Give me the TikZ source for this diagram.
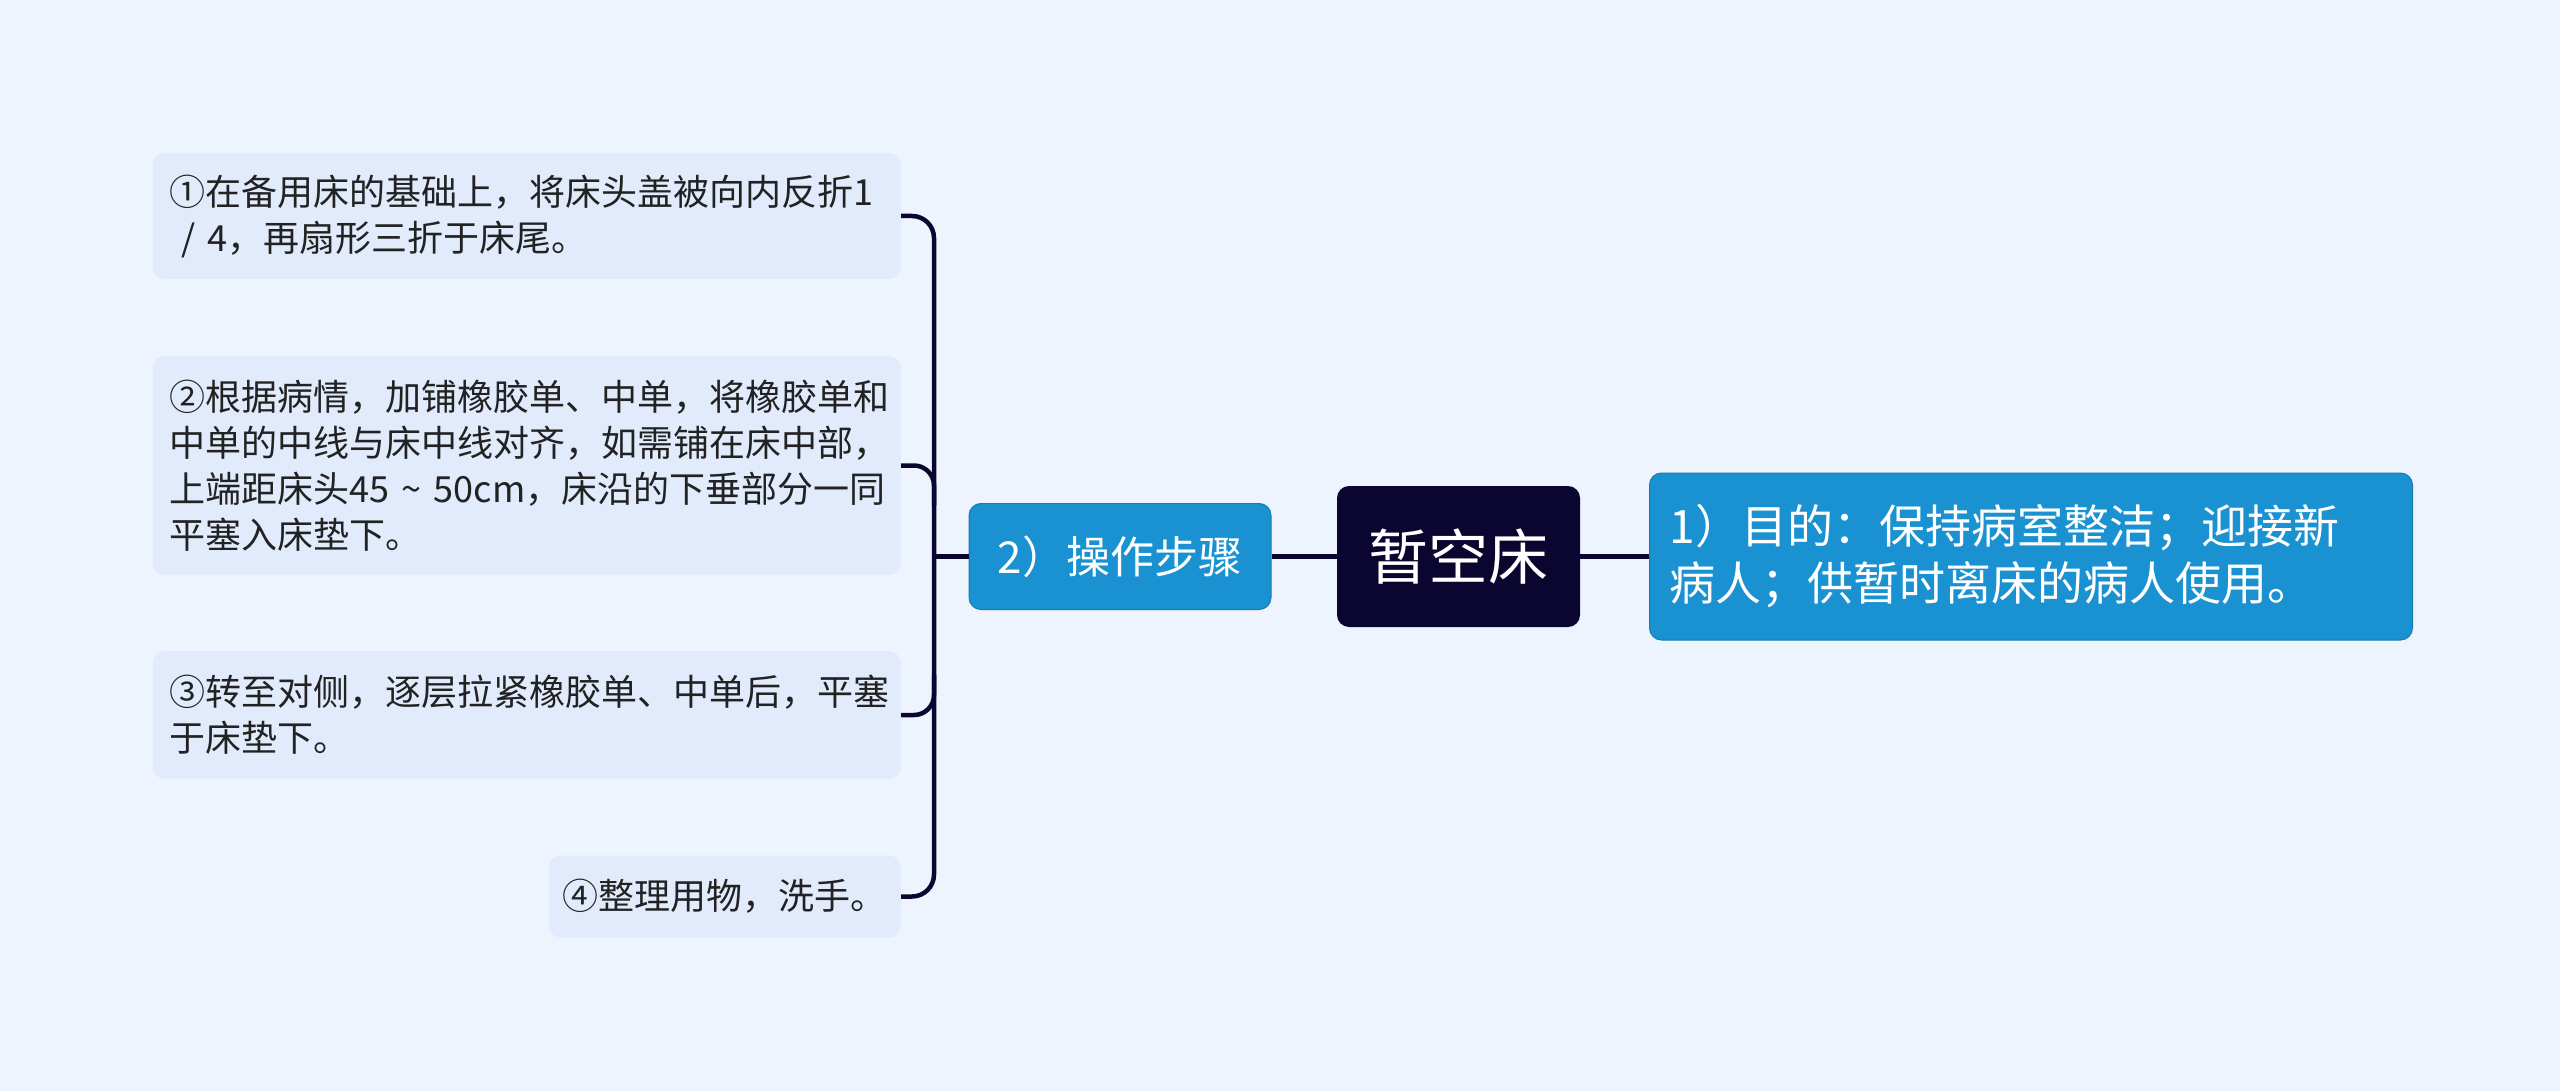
\documentclass[tikz,border=0pt]{standalone}
\usepackage{fontspec}
\setmainfont{Noto Sans CJK SC}
\definecolor{bgc}{HTML}{EEF4FE}
\definecolor{rootc}{HTML}{0B0630}
\definecolor{bluec}{HTML}{1A92D2}
\definecolor{leafc}{HTML}{E1EBFC}
\definecolor{txtc}{HTML}{222222}
\definecolor{linec}{HTML}{0B0630}
\tikzset{
  leafbox/.style={fill=leafc, rounded corners=12pt, anchor=east, inner xsep=17pt, inner ysep=0pt,
    align=left, text=txtc, font=\fontsize{36}{46}\selectfont},
  bluebox/.style={fill=bluec, draw=bluec!85!black, line width=1pt, rounded corners=12pt, text=white, inner ysep=0pt},
  rootbox/.style={fill=rootc, rounded corners=12pt, text=white, inner sep=0pt,
    minimum width=243pt, minimum height=141pt, font=\fontsize{60}{70}\selectfont},
  conn/.style={draw=linec, line width=4.5pt},
}
\begin{document}
\begin{tikzpicture}[x=1pt,y=-1pt]
\fill[bgc] (0,0) rectangle (2560,1091);
\useasboundingbox (0,0) rectangle (2560,1091);

\node[rootbox] (root) at (1458.5,556.5) {暂空床};
\node[bluebox, minimum width=302pt, minimum height=106pt, inner xsep=0pt, font=\fontsize{44}{52}\selectfont] (p2) at (1120,556.5) {2）操作步骤};
\node[bluebox, minimum width=763pt, minimum height=167pt, inner xsep=20pt, text width=723pt, align=left, font=\fontsize{46}{57}\selectfont] (p1) at (2031,556.5) {1）目的：保持病室整洁；迎接新\\病人；供暂时离床的病人使用。};

\node[leafbox, text width=714pt, minimum height=126pt] (b1) at (901,216) {①在备用床的基础上，将床头盖被向内反折1\\\ / 4，再扇形三折于床尾。};
\node[leafbox, text width=714pt, minimum height=219pt] (b2) at (901,465.5) {②根据病情，加铺橡胶单、中单，将橡胶单和\\中单的中线与床中线对齐，如需铺在床中部，\\上端距床头45 {\char"7E} 50cm，床沿的下垂部分一同\\平塞入床垫下。};
\node[leafbox, text width=714pt, minimum height=128pt] (b3) at (901,715) {③转至对侧，逐层拉紧橡胶单、中单后，平塞\\于床垫下。};
\node[leafbox, minimum height=82pt, inner xsep=14pt] (b4) at (901,896.5) {④整理用物，洗手。};

\coordinate (tr) at (934,556.5);
\path[conn] (root.east) -- (p1.west);
\path[conn] (root.west) -- (p2.east);
\path[conn] (p2.west) -- (tr);
\path[conn, rounded corners=22pt] (b1.east) -- (b1.east -| tr) -- (b4.east -| tr) -- (b4.east);
\path[conn, rounded corners=20pt] (b2.east) -- (b2.east -| tr) -- ([yshift=-40pt]b2.east -| tr);
\path[conn, rounded corners=20pt] (b3.east) -- (b3.east -| tr) -- ([yshift=40pt]b3.east -| tr);
\end{tikzpicture}
\end{document}
